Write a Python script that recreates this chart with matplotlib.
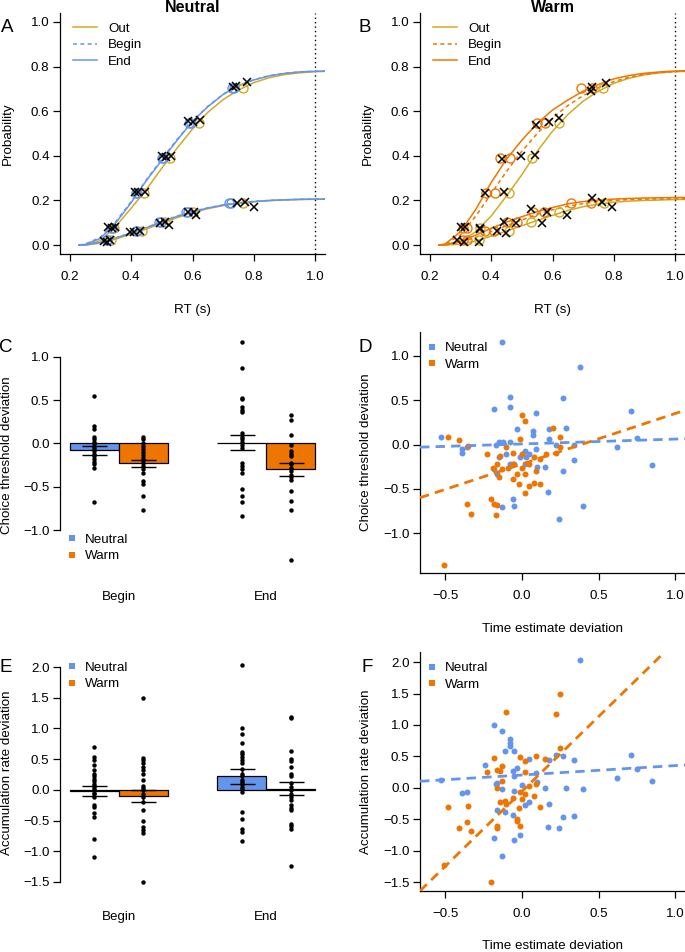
import numpy as np
import matplotlib
matplotlib.use("Agg")
import matplotlib.pyplot as plt
from matplotlib.lines import Line2D
from matplotlib.ticker import FuncFormatter

plt.rcParams['font.family'] = ['Liberation Sans', 'DejaVu Sans']

# ---------------- data: panels A / B (defective CDFs) ----------------
rt_grid = [0.23, 0.25, 0.30, 0.35, 0.40, 0.45, 0.50, 0.55, 0.60, 0.65, 0.70,
           0.75, 0.80, 0.85, 0.90, 0.95, 1.00, 1.05]

# Neutral
a_out_up = [0, 0.0, 0.02, 0.085, 0.165, 0.25, 0.345, 0.435, 0.52, 0.595, 0.652, 0.695, 0.728, 0.75, 0.764, 0.772, 0.777, 0.779]
a_beg_up = [0, 0.004, 0.035, 0.105, 0.195, 0.293, 0.385, 0.474, 0.556, 0.622, 0.676, 0.715, 0.741, 0.759, 0.77, 0.776, 0.779, 0.78]
a_end_up = [0, 0.003, 0.03, 0.10, 0.19, 0.29, 0.38, 0.47, 0.555, 0.62, 0.675, 0.715, 0.74, 0.758, 0.769, 0.776, 0.779, 0.78]
a_out_lo = [0, 0.0, 0.009, 0.027, 0.049, 0.072, 0.098, 0.123, 0.145, 0.163, 0.177, 0.187, 0.194, 0.199, 0.202, 0.204, 0.205, 0.206]
a_beg_lo = [0, 0.001, 0.012, 0.032, 0.055, 0.079, 0.105, 0.13, 0.15, 0.167, 0.18, 0.19, 0.196, 0.2, 0.203, 0.205, 0.206, 0.207]
a_end_lo = [0, 0.001, 0.012, 0.032, 0.055, 0.078, 0.104, 0.129, 0.149, 0.166, 0.179, 0.189, 0.195, 0.2, 0.203, 0.205, 0.206, 0.206]
# Warm
b_out_up = [0, 0.0, 0.015, 0.06, 0.13, 0.22, 0.315, 0.42, 0.51, 0.585, 0.645, 0.69, 0.725, 0.748, 0.763, 0.772, 0.777, 0.78]
b_beg_up = [0, 0.003, 0.045, 0.13, 0.23, 0.33, 0.42, 0.50, 0.57, 0.625, 0.67, 0.705, 0.733, 0.752, 0.765, 0.773, 0.778, 0.78]
b_end_up = [0, 0.005, 0.06, 0.16, 0.28, 0.385, 0.47, 0.545, 0.605, 0.65, 0.69, 0.72, 0.745, 0.76, 0.77, 0.776, 0.78, 0.782]
b_out_lo = [0, 0.0, 0.004, 0.018, 0.04, 0.063, 0.087, 0.11, 0.133, 0.155, 0.172, 0.184, 0.192, 0.197, 0.2, 0.202, 0.204, 0.205]
b_beg_lo = [0, 0.001, 0.013, 0.035, 0.06, 0.087, 0.112, 0.138, 0.158, 0.174, 0.186, 0.195, 0.2, 0.204, 0.206, 0.207, 0.207, 0.208]
b_end_lo = [0, 0.002, 0.017, 0.045, 0.075, 0.103, 0.127, 0.15, 0.168, 0.185, 0.195, 0.202, 0.206, 0.209, 0.211, 0.212, 0.213, 0.213]

# model quantile points (circles)
q_up_y = [0.078, 0.234, 0.39, 0.546, 0.702]
q_lo_y = [0.021, 0.063, 0.105, 0.147, 0.189]
a_out_up_qx = [0.345, 0.443, 0.527, 0.62, 0.765]
a_beg_up_qx = [0.333, 0.415, 0.50, 0.59, 0.73]
a_end_up_qx = [0.336, 0.42, 0.505, 0.595, 0.735]
a_out_lo_qx = [0.334, 0.434, 0.51, 0.60, 0.766]
a_beg_lo_qx = [0.32, 0.415, 0.492, 0.58, 0.72]
a_end_lo_qx = [0.322, 0.418, 0.496, 0.586, 0.725]
b_out_up_qx = [0.365, 0.458, 0.534, 0.621, 0.766]
b_beg_up_qx = [0.322, 0.411, 0.463, 0.577, 0.73]
b_end_up_qx = [0.309, 0.384, 0.429, 0.548, 0.694]
b_out_lo_qx = [0.36, 0.458, 0.529, 0.621, 0.768]
b_beg_lo_qx = [0.32, 0.41, 0.485, 0.572, 0.725]
b_end_lo_qx = [0.309, 0.38, 0.452, 0.537, 0.66]

# observed quantiles (X marks)
a_obs_x = [0.325, 0.336, 0.347, 0.412, 0.423, 0.445, 0.50, 0.513, 0.53, 0.585, 0.60, 0.625, 0.733, 0.742, 0.777,
           0.31, 0.32, 0.33, 0.395, 0.41, 0.43, 0.495, 0.51, 0.525, 0.585, 0.605, 0.61, 0.745, 0.77, 0.80]
a_obs_y = [0.082, 0.075, 0.08, 0.237, 0.237, 0.237, 0.397, 0.395, 0.40, 0.555, 0.552, 0.56, 0.71, 0.712, 0.733,
           0.02, 0.015, 0.022, 0.06, 0.06, 0.063, 0.10, 0.105, 0.092, 0.148, 0.15, 0.135, 0.19, 0.195, 0.17]
b_obs_x = [0.302, 0.316, 0.363, 0.379, 0.442, 0.434, 0.496, 0.543, 0.545, 0.59, 0.621, 0.725, 0.73, 0.774,
           0.289, 0.313, 0.36, 0.362, 0.42, 0.45, 0.442, 0.48, 0.53, 0.567, 0.583, 0.648, 0.73, 0.763, 0.795]
b_obs_y = [0.079, 0.082, 0.078, 0.232, 0.24, 0.385, 0.397, 0.404, 0.539, 0.55, 0.569, 0.689, 0.708, 0.726,
           0.022, 0.015, 0.015, 0.07, 0.065, 0.055, 0.105, 0.10, 0.16, 0.10, 0.15, 0.135, 0.21, 0.195, 0.172]

# ---------------- data: panels C / E (bars) ----------------
groups = ['Begin', 'End']
conditions = ['Neutral', 'Warm']
c_means = [[-0.08, -0.23], [0.01, -0.30]]
c_se = [[0.05, 0.04], [0.09, 0.07]]
c_pts = {
    ('Begin', 'Neutral'): [0.55, 0.20, 0.17, 0.08, 0.05, 0.02, -0.01, -0.04, -0.06, -0.09, -0.12, -0.15, -0.18, -0.21, -0.24, -0.28, -0.68],
    ('Begin', 'Warm'): [0.08, 0.05, 0.01, -0.03, -0.06, -0.10, -0.13, -0.17, -0.19, -0.22, -0.26, -0.30, -0.34, -0.43, -0.47, -0.61, -0.77],
    ('End', 'Neutral'): [1.17, 0.87, 0.53, 0.51, 0.42, 0.39, 0.36, 0.12, 0.08, 0.05, 0.02, -0.02, -0.05, -0.22, -0.26, -0.30, -0.34, -0.53, -0.61, -0.68, -0.84],
    ('End', 'Warm'): [0.33, 0.27, 0.10, -0.02, -0.09, -0.12, -0.15, -0.22, -0.24, -0.28, -0.32, -0.36, -0.39, -0.42, -0.55, -0.67, -0.77, -1.35],
}
e_means = [[-0.025, -0.10], [0.22, 0.02]]
e_se = [[0.08, 0.097], [0.12, 0.10]]
e_pts = {
    ('Begin', 'Neutral'): [0.69, 0.54, 0.49, 0.41, 0.32, 0.26, 0.22, 0.18, 0.14, 0.10, 0.06, 0.03, -0.01, -0.05, -0.07, -0.12, -0.24, -0.28, -0.38, -0.45, -0.80, -1.10],
    ('Begin', 'Warm'): [1.50, 0.52, 0.49, 0.43, 0.37, 0.32, 0.26, 0.16, 0.07, 0.03, -0.01, -0.06, -0.12, -0.20, -0.32, -0.51, -0.60, -0.65, -0.71, -1.50],
    ('End', 'Neutral'): [2.03, 1.0, 0.91, 0.77, 0.62, 0.58, 0.53, 0.48, 0.43, 0.34, 0.26, 0.22, 0.16, 0.13, 0.09, 0.05, 0.01, -0.03, -0.36, -0.47, -0.64, -0.68, -0.84],
    ('End', 'Warm'): [1.19, 1.17, 0.64, 0.51, 0.47, 0.37, 0.26, 0.22, 0.11, 0.05, -0.01, -0.06, -0.12, -0.17, -0.25, -0.30, -0.33, -0.55, -0.59, -0.64, -1.24],
}

# ---------------- data: panels D / F (scatter) ----------------
d_neu_x = [-0.13, 0.38, -0.08, -0.18, -0.08, 0.27, 0.09, 0.71, -0.03, 0.07, 0.07, 0.18, 0.29, -0.53, -0.15, -0.12, -0.08, -0.17,
           0.75, 0.18, 0.22, 0.34, 0.62, -0.39, -0.39, -0.36, 0.09, 0.02, -0.01, 0.05, -0.18, -0.16, -0.05, 0.02, 0.10, 0.15,
           0.27, 0.34, 0.85, 0.17, -0.06, -0.05, -0.13, 0.40, 0.24, -0.15, -0.10, -0.08, 0.03]
d_neu_y = [1.16, 0.87, 0.54, 0.40, 0.42, 0.52, 0.36, 0.38, 0.18, 0.15, 0.11, 0.17, 0.19, 0.08, 0.03, 0.03, 0.03, -0.01,
           0.07, 0.06, 0.0, -0.01, -0.03, -0.05, -0.10, -0.03, -0.05, -0.07, -0.14, -0.11, -0.28, -0.33, -0.22, -0.22, -0.25, -0.25,
           -0.30, -0.18, -0.23, -0.54, -0.62, -0.69, -0.70, -0.69, -0.84, -0.14, -0.11, -0.22, -0.14]
d_warm_x = [-0.48, -0.41, -0.35, -0.23, 0.0, 0.02, 0.20, -0.01, 0.25, 0.25, -0.10, -0.14, -0.16, -0.13, -0.15, -0.06, 0.0, -0.03,
            0.02, 0.05, 0.09, 0.08, 0.12, 0.16, 0.22, -0.02, 0.08, 0.12, 0.05, 0.02, -0.36, -0.33, -0.20, -0.18, -0.16, -0.17,
            -0.51, -0.06, 0.0, -0.19, -0.09, -0.06]
d_warm_y = [0.09, 0.05, -0.02, -0.11, 0.33, 0.27, 0.19, 0.06, 0.08, -0.03, -0.03, -0.13, -0.22, -0.28, -0.37, -0.39, -0.26, -0.33,
            -0.33, -0.22, -0.30, -0.14, -0.16, -0.11, -0.09, -0.45, -0.43, -0.45, -0.47, -0.55, -0.67, -0.78, -0.62, -0.67, -0.68, -0.79,
            -1.36, -0.10, -0.11, -0.26, -0.26, -0.22]
f_neu_x = [0.38, -0.18, -0.13, -0.08, -0.08, -0.08, -0.11, -0.05, 0.05, 0.22, 0.27, 0.34, 0.18, -0.24, -0.03, 0.71, 0.75, 0.62,
           0.85, -0.53, -0.06, -0.05, 0.09, -0.16, -0.17, 0.10, 0.0, 0.29, 0.15, 0.40, -0.13, -0.05, -0.39, -0.36, 0.05, 0.02,
           0.18, -0.16, -0.11, -0.06, 0.27, 0.34, 0.17, 0.24, -0.01, -0.18, -0.05, -0.13]
f_neu_y = [2.03, 1.0, 0.90, 0.78, 0.72, 0.67, 0.59, 0.58, 0.46, 0.53, 0.51, 0.45, 0.45, 0.36, 0.32, 0.53, 0.30, 0.15,
           0.11, 0.13, 0.27, 0.19, 0.23, 0.08, 0.06, 0.10, 0.04, 0.0, -0.01, -0.02, -0.02, -0.05, -0.08, -0.07, -0.23, -0.27,
           -0.26, -0.36, -0.38, -0.43, -0.46, -0.44, -0.63, -0.64, -0.75, -0.80, -0.83, -1.09]
f_warm_x = [0.25, -0.10, 0.22, 0.25, -0.18, -0.13, -0.23, -0.16, -0.14, -0.01, 0.02, 0.09, 0.15, 0.02, -0.13, -0.16, -0.01, 0.02,
            0.05, 0.09, -0.06, 0.0, -0.14, -0.11, -0.10, -0.02, 0.12, -0.48, -0.35, -0.03, -0.03, -0.01, -0.36, -0.16, -0.16,
            -0.41, -0.33, -0.51, -0.20, 0.08]
f_warm_y = [1.50, 1.20, 1.18, 0.64, 0.47, 0.35, 0.25, 0.29, 0.27, 0.49, 0.43, 0.51, 0.46, 0.25, 0.11, -0.01, -0.07, -0.10,
            0.03, 0.06, -0.16, -0.18, -0.23, -0.21, -0.26, -0.32, -0.30, -0.30, -0.29, -0.49, -0.52, -0.60, -0.55, -0.60, -0.64,
            -0.64, -0.69, -1.22, -1.49, -0.13]
# regression lines: (slope, intercept)
d_neu_fit = (0.055, 0.0065)
d_warm_fit = (0.571, -0.221)
f_neu_fit = (0.15, 0.204)
f_warm_fit = (2.38, -0.058)

# ---------------- styling ----------------
W, H = 685, 952
GOLD = '#D3A923'
BLUE = '#6495ED'
ORANGE = '#EE7600'
FS = 9.6
LW_AX = 0.9

fig = plt.figure(figsize=(W / 100, H / 100), dpi=100)


def add_ax(l, t, r, b):
    return fig.add_axes([l / W, 1 - b / H, (r - l) / W, (b - t) / H])


def fmt_minus(v, pos):
    return ('%.1f' % v).replace('-', '\u2212')


def style_axes(ax, bottom=True):
    ax.spines['top'].set_visible(False)
    ax.spines['right'].set_visible(False)
    ax.spines['bottom'].set_visible(bottom)
    for s in ('left', 'bottom'):
        ax.spines[s].set_linewidth(LW_AX)
    ax.tick_params(axis='both', direction='out', length=5, width=LW_AX, labelsize=FS)
    ax.tick_params(axis='x', pad=7.5)
    ax.tick_params(axis='y', pad=2.5)
    ax.yaxis.set_major_formatter(FuncFormatter(fmt_minus))
    if bottom:
        ax.xaxis.set_major_formatter(FuncFormatter(fmt_minus))
    ax.patch.set_alpha(0)


def cdf_panel(ax, curves, circles, obs_x, obs_y, main_col, title):
    (out_up, beg_up, end_up, out_lo, beg_lo, end_lo) = curves
    for ys in (out_up, out_lo):
        ax.plot(rt_grid, ys, color=GOLD, lw=1.1, zorder=2)
    for ys in (beg_up, beg_lo):
        ax.plot(rt_grid, ys, color=main_col, lw=1.1, ls=(0, (2.6, 2.2)), zorder=3)
    for ys in (end_up, end_lo):
        ax.plot(rt_grid, ys, color=main_col, lw=1.1, zorder=3)
    (o_u, b_u, e_u, o_l, b_l, e_l) = circles
    for xs, ys, col in ((o_u, q_up_y, GOLD), (o_l, q_lo_y, GOLD),
                        (b_u, q_up_y, main_col), (b_l, q_lo_y, main_col),
                        (e_u, q_up_y, main_col), (e_l, q_lo_y, main_col)):
        ax.plot(xs, ys, 'o', mfc='none', mec=col, ms=6.5, mew=1.0, zorder=4)
    ax.plot(obs_x, obs_y, 'x', color='black', ms=6, mew=1.1, zorder=5)
    ax.axvline(1.0, color='black', ls=(0, (1, 2.2)), lw=1.0, zorder=1)
    ax.set_xlim(0.168, 1.032)
    ax.set_ylim(-0.04, 1.04)
    ax.set_xticks([0.2, 0.4, 0.6, 0.8, 1.0])
    ax.set_yticks([0.0, 0.2, 0.4, 0.6, 0.8, 1.0])
    style_axes(ax)
    ax.set_xlabel('RT (s)', fontsize=FS, va='center')
    ax.xaxis.set_label_coords(0.5, -0.232)
    ax.set_ylabel('Probability', fontsize=FS, va='center')
    ax.yaxis.set_label_coords(-0.198, 0.5)
    handles = [Line2D([], [], color=GOLD, lw=1.1),
               Line2D([], [], color=main_col, lw=1.1, ls=(0, (2.6, 2.2))),
               Line2D([], [], color=main_col, lw=1.1)]
    ax.legend(handles, ['Out', 'Begin', 'End'], loc='upper left', bbox_to_anchor=(0.049, 0.96),
              frameon=False, fontsize=FS, handlelength=1.8, handletextpad=0.85,
              labelspacing=0.3, borderpad=0, borderaxespad=0)


def bar_panel(ax, means, ses, pts, ylim, yticks, ylabel, legend_anchor):
    for gi, g in enumerate(groups):
        for ci, c in enumerate(conditions):
            pos = 1.5 + ci + 3 * gi
            ax.bar(pos, means[gi][ci], width=1.0, color=(BLUE if c == 'Neutral' else ORANGE),
                   edgecolor='black', linewidth=0.9, zorder=2)
            vals = pts[(g, c)]
            ax.plot(np.full(len(vals), pos), vals, 'o', color='black', ms=3.2, mew=0, zorder=3)
            ax.errorbar(pos, means[gi][ci], yerr=ses[gi][ci], fmt='none', ecolor='black',
                        elinewidth=1.0, capsize=9, capthick=1.0, zorder=4)
        ax.text(2 + 3 * gi, -0.09, g, transform=ax.get_xaxis_transform(), ha='center', va='center',
                fontsize=FS)
    ax.set_xlim(0.8, 6.2)
    ax.set_ylim(*ylim)
    ax.set_xticks([])
    ax.set_yticks(yticks)
    style_axes(ax, bottom=False)
    ax.spines['left'].set_bounds(yticks[0], yticks[-1])
    ax.set_ylabel(ylabel, fontsize=FS, va='center')
    ax.yaxis.set_label_coords(-0.2, 0.5)
    handles = [Line2D([], [], ls='none', marker='s', ms=4.8, mew=0, color=BLUE),
               Line2D([], [], ls='none', marker='s', ms=4.8, mew=0, color=ORANGE)]
    ax.legend(handles, conditions, loc='upper left', bbox_to_anchor=legend_anchor, frameon=False,
              fontsize=FS, handlelength=0.5, handletextpad=0.7, labelspacing=0.3, borderpad=0,
              borderaxespad=0)


def scatter_panel(ax, nx, ny, wx, wy, nfit, wfit, ylim, yticks, ylabel):
    ax.plot(nx, ny, 'o', color=BLUE, ms=4.3, mew=0, zorder=3)
    ax.plot(wx, wy, 'o', color=ORANGE, ms=4.3, mew=0, zorder=3)
    ax.axline((0, nfit[1]), slope=nfit[0], color=BLUE, lw=2.0, ls=(0, (3.4, 2.2)), zorder=4)
    ax.axline((0, wfit[1]), slope=wfit[0], color=ORANGE, lw=2.0, ls=(0, (3.4, 2.2)), zorder=4)
    ax.set_xlim(-0.664, 1.064)
    ax.set_ylim(*ylim)
    ax.set_xticks([-0.5, 0.0, 0.5, 1.0])
    ax.set_yticks(yticks)
    style_axes(ax)
    ax.set_xlabel('Time estimate deviation', fontsize=FS, va='center')
    ax.xaxis.set_label_coords(0.5, -0.231)
    ax.set_ylabel(ylabel, fontsize=FS, va='center')
    ax.yaxis.set_label_coords(-0.204, 0.5)
    handles = [Line2D([], [], ls='none', marker='s', ms=4.8, mew=0, color=BLUE),
               Line2D([], [], ls='none', marker='s', ms=4.8, mew=0, color=ORANGE)]
    ax.legend(handles, conditions, loc='upper left', bbox_to_anchor=(0.033, 0.958), frameon=False,
              fontsize=FS, handlelength=0.5, handletextpad=0.7, labelspacing=0.3, borderpad=0,
              borderaxespad=0)


axA = add_ax(60, 13, 325, 254)
axB = add_ax(420, 13, 685, 254)
axC = add_ax(60, 335, 325, 575)
axD = add_ax(420, 332, 685, 573)
axE = add_ax(60, 650, 325, 895)
axF = add_ax(420, 652, 685, 891)

cdf_panel(axA, (a_out_up, a_beg_up, a_end_up, a_out_lo, a_beg_lo, a_end_lo),
          (a_out_up_qx, a_beg_up_qx, a_end_up_qx, a_out_lo_qx, a_beg_lo_qx, a_end_lo_qx),
          a_obs_x, a_obs_y, BLUE, 'Neutral')
cdf_panel(axB, (b_out_up, b_beg_up, b_end_up, b_out_lo, b_beg_lo, b_end_lo),
          (b_out_up_qx, b_beg_up_qx, b_end_up_qx, b_out_lo_qx, b_beg_lo_qx, b_end_lo_qx),
          b_obs_x, b_obs_y, ORANGE, 'Warm')

bar_panel(axC, c_means, c_se, c_pts, (-1.52, 1.254), [-1.0, -0.5, 0.0, 0.5, 1.0],
          'Choice threshold deviation', (0.033, 0.172))
bar_panel(axE, e_means, e_se, e_pts, (-1.712, 2.277), [-1.5, -1.0, -0.5, 0.0, 0.5, 1.0, 1.5, 2.0],
          'Accumulation rate deviation', (0.033, 0.953))

scatter_panel(axD, d_neu_x, d_neu_y, d_warm_x, d_warm_y, d_neu_fit, d_warm_fit,
              (-1.45, 1.27), [-1.0, -0.5, 0.0, 0.5, 1.0], 'Choice threshold deviation')
scatter_panel(axF, f_neu_x, f_neu_y, f_warm_x, f_warm_y, f_neu_fit, f_warm_fit,
              (-1.64, 2.16), [-1.5, -1.0, -0.5, 0.0, 0.5, 1.0, 1.5, 2.0], 'Accumulation rate deviation')

# titles and panel letters
fig.text(192.5 / W, 1 - 7 / H, 'Neutral', ha='center', va='center', fontsize=11.5, fontweight='bold')
fig.text(552.5 / W, 1 - 7 / H, 'Warm', ha='center', va='center', fontsize=11.5, fontweight='bold')
for letter, (px, py) in {'A': (7, 27), 'B': (365, 27), 'C': (6, 347), 'D': (365, 347),
                         'E': (6, 667), 'F': (367, 667)}.items():
    fig.text(px / W, 1 - py / H, letter, ha='center', va='center', fontsize=13.5)

fig.savefig('out.png', dpi=100)
